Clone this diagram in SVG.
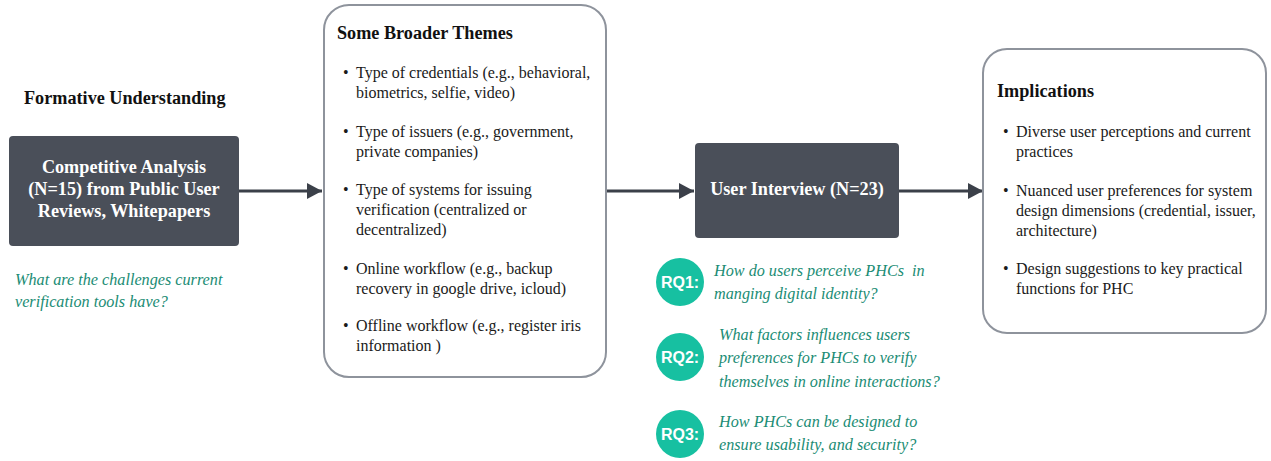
<svg xmlns="http://www.w3.org/2000/svg" width="1271" height="461" viewBox="0 0 1271 461">
<defs>
<style>
.bg{fill:#ffffff}
.dark{fill:#4a4f59}
.panel{fill:#ffffff;stroke:#8e939c;stroke-width:2}
.t{font-family:"Liberation Serif","Times New Roman",serif;fill:#1a1a1a}
.h{font-family:"Liberation Serif","Times New Roman",serif;font-weight:bold;fill:#111111;font-size:18.2px}
.wb{font-family:"Liberation Serif","Times New Roman",serif;font-weight:bold;fill:#ffffff;font-size:18.2px;text-anchor:middle}
.b{font-size:16px}
.q{font-family:"Liberation Serif","Times New Roman",serif;font-style:italic;fill:#1a8c74;font-size:16.2px;white-space:pre}
.rq{fill:#17c0a1}
.rqt{font-family:"Liberation Sans",Arial,sans-serif;font-weight:bold;fill:#ffffff;font-size:16px;text-anchor:middle}
.conn{stroke:#3b4049;stroke-width:3;fill:none}
</style>
<marker id="ah" markerWidth="15" markerHeight="16" refX="15" refY="8" orient="auto" markerUnits="userSpaceOnUse">
<path d="M0,0 L15,8 L0,16 Z" fill="#3b4049"/>
</marker>
</defs>
<rect class="bg" x="0" y="0" width="1271" height="461"/>

<g id="connectors">
<line class="conn" x1="239" y1="191" x2="322" y2="191" marker-end="url(#ah)"/>
<line class="conn" x1="606" y1="191" x2="694" y2="191" marker-end="url(#ah)"/>
<line class="conn" x1="899" y1="191" x2="983" y2="191" marker-end="url(#ah)"/>
</g>

<g id="formative">
<text class="h" x="24" y="104">Formative Understanding</text>
</g>

<g id="competitive">
<rect class="dark" x="9" y="136" width="230" height="110" rx="4"/>
<text class="wb" x="124" y="173">Competitive Analysis</text>
<text class="wb" x="124" y="195">(N=15) from Public User</text>
<text class="wb" x="124" y="217">Reviews, Whitepapers</text>
</g>

<g id="q0">
<text class="q" x="15" y="285">What are the challenges current</text>
<text class="q" x="15" y="307">verification tools have?</text>
</g>

<g id="themes">
<rect class="panel" x="324" y="5" width="282" height="372" rx="25"/>
<text class="h" x="337" y="39">Some Broader Themes</text>
<g class="t b">
<text x="343" y="78">•</text><text x="356" y="78">Type of credentials (e.g., behavioral,</text>
<text x="356" y="98">biometrics, selfie, video)</text>
<text x="343" y="137">•</text><text x="356" y="137">Type of issuers (e.g., government,</text>
<text x="356" y="157">private companies)</text>
<text x="343" y="195">•</text><text x="356" y="195">Type of systems for issuing</text>
<text x="356" y="215">verification (centralized or</text>
<text x="356" y="235">decentralized)</text>
<text x="343" y="274">•</text><text x="356" y="274">Online workflow (e.g., backup</text>
<text x="356" y="294">recovery in google drive, icloud)</text>
<text x="343" y="331">•</text><text x="356" y="331">Offline workflow (e.g., register iris</text>
<text x="356" y="351">information )</text>
</g>
</g>

<g id="interview">
<rect class="dark" x="695" y="143" width="204" height="95" rx="4"/>
<text class="wb" x="797" y="195">User Interview (N=23)</text>
</g>

<g id="implications">
<rect class="panel" x="983" y="49" width="283" height="284" rx="24"/>
<text class="h" x="997" y="97">Implications</text>
<g class="t b">
<text x="1003" y="137">•</text><text x="1016" y="137">Diverse user perceptions and current</text>
<text x="1016" y="157">practices</text>
<text x="1003" y="196">•</text><text x="1016" y="196">Nuanced user preferences for system</text>
<text x="1016" y="216">design dimensions (credential, issuer,</text>
<text x="1016" y="236">architecture)</text>
<text x="1003" y="274">•</text><text x="1016" y="274">Design suggestions to key practical</text>
<text x="1016" y="294">functions for PHC</text>
</g>
</g>

<g id="rq1">
<circle class="rq" cx="680" cy="282" r="24"/>
<text class="rqt" x="680" y="288">RQ1:</text>
<text class="q" x="714" y="276">How do users perceive PHCs  in</text>
<text class="q" x="714" y="299">manging digital identity?</text>
</g>

<g id="rq2">
<circle class="rq" cx="680" cy="357" r="24"/>
<text class="rqt" x="680" y="363">RQ2:</text>
<text class="q" x="719" y="340">What factors influences users</text>
<text class="q" x="719" y="363">preferences for PHCs to verify</text>
<text class="q" x="719" y="387">themselves in online interactions?</text>
</g>

<g id="rq3">
<circle class="rq" cx="680" cy="434" r="24"/>
<text class="rqt" x="680" y="440">RQ3:</text>
<text class="q" x="719" y="427">How PHCs can be designed to</text>
<text class="q" x="719" y="450">ensure usability, and security?</text>
</g>
</svg>
